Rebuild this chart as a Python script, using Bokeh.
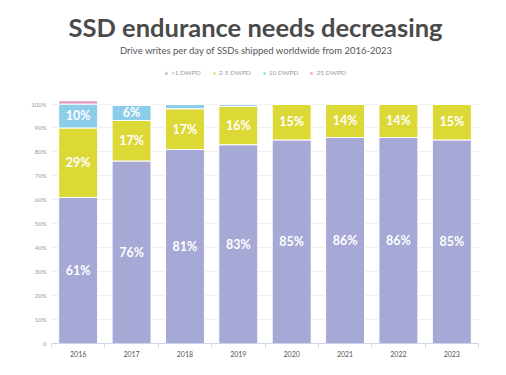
from bokeh.plotting import figure
from bokeh.models import (Range1d, FixedTicker, CustomJSTickFormatter,
                          Label, Legend, LegendItem, ColumnDataSource)
from bokeh.core.properties import value
from bokeh.embed import file_html
from bokeh.resources import INLINE

years = ["2016", "2017", "2018", "2019", "2020", "2021", "2022", "2023"]
lt1 = [61, 76.2, 81, 83, 85, 86, 86, 85]
d2_5 = [29, 16.9, 17, 16, 15, 14, 14, 15]
d10 = [10, 6.4, 1.8, 0.8, 0, 0, 0, 0]
d25 = [1.3, 0, 0, 0, 0, 0, 0, 0]
series_names = ["<1 DWPD", "2-5 DWPD", "10 DWPD", "25 DWPD"]
colors = ["#a6a8d6", "#dcd835", "#8ccdea", "#e78fc4"]
yticks = [0, 10, 20, 30, 40, 50, 60, 70, 80, 90, 100]

FONT = "Lato"
keys = ["lt1", "d2_5", "d10", "d25"]
xpos = [i + 0.5 for i in range(len(years))]
src = ColumnDataSource(dict(x=xpos, lt1=lt1, d2_5=d2_5, d10=d10, d25=d25))

W, H = 504, 373
BL, BR, BB = 51, 26, 30
FW, FH = W - BL - BR, H - BB
PX = 2.395                     # pixels per percentage point
YTOP = FH / PX                 # frame reaches to the top of the canvas

p = figure(x_range=Range1d(0, len(years)), y_range=Range1d(0, YTOP),
           width=W, height=H, output_backend="svg", toolbar_location=None,
           min_border_left=BL, min_border_right=BR, min_border_bottom=BB,
           min_border_top=0, outline_line_color=None)

renderers = p.vbar_stack(keys, x="x", width=0.73, source=src, color=colors,
                         line_color="white", line_width=1)

# data labels
lx, ly, lt = [], [], []
for i in range(len(years)):
    base = 0.0
    for arr in (lt1, d2_5, d10, d25):
        v = arr[i]
        if v >= 5:
            lx.append(xpos[i])
            ly.append(base + v / 2)
            lt.append(f"{round(v)}%")
        base += v
p.text(x=lx, y=ly, text=lt, text_align="center", text_baseline="middle",
       text_color="white", text_font=value(FONT), text_font_style="bold",
       text_font_size="12.5px")

# axes
p.yaxis.ticker = FixedTicker(ticks=yticks)
p.yaxis.bounds = (0, 100)
p.yaxis.formatter = CustomJSTickFormatter(code="return tick == 0 ? '0' : tick + '%';")
p.yaxis.axis_line_color = None
p.yaxis.major_tick_line_color = None
p.yaxis.minor_tick_line_color = None
p.yaxis.major_tick_out = 0
p.yaxis.major_label_text_font = FONT
p.yaxis.major_label_text_font_size = "6px"
p.yaxis.major_label_text_color = "#999999"
p.yaxis.major_label_standoff = 5
p.ygrid.grid_line_color = "#f0f0f0"
p.xgrid.grid_line_color = None

p.xaxis.ticker = FixedTicker(ticks=xpos, minor_ticks=list(range(len(years) + 1)))
p.xaxis.major_label_overrides = {x: y for x, y in zip(xpos, years)}
p.xaxis.axis_line_color = "#ccd6eb"
p.xaxis.major_tick_line_color = None
p.xaxis.major_tick_out = 0
p.xaxis.minor_tick_line_color = "#ccd6eb"
p.xaxis.minor_tick_out = 4
p.xaxis.minor_tick_in = 0
p.xaxis.major_label_text_font = FONT
p.xaxis.major_label_text_font_size = "7px"
p.xaxis.major_label_text_color = "#555555"
p.xaxis.major_label_standoff = 3

# legend above the bars
legend = Legend(items=[LegendItem(label=n, renderers=[r]) for n, r in zip(series_names, renderers)],
                orientation="horizontal", location=(113, FH - 76),
                label_text_font=FONT, label_text_font_size="6.5px",
                label_text_color="#999999", glyph_width=4, glyph_height=4,
                label_standoff=3, spacing=11, padding=4, margin=0,
                border_line_color=None, background_fill_alpha=0)
p.add_layout(legend)

cx = 255 - BL
p.add_layout(Label(x=cx, y=FH - 26, x_units="screen", y_units="screen",
                   text="SSD endurance needs decreasing", text_align="center",
                   text_baseline="middle", text_font=FONT, text_font_size="25.5px",
                   text_font_style="bold", text_color="#4a4a4a"))
p.add_layout(Label(x=cx + 1, y=FH - 50, x_units="screen", y_units="screen",
                   text="Drive writes per day of SSDs shipped worldwide from 2016-2023",
                   text_align="center", text_baseline="middle", text_font=FONT,
                   text_font_size="9.5px", text_color="#555555"))

open("out.html", "w").write(file_html(p, INLINE))
